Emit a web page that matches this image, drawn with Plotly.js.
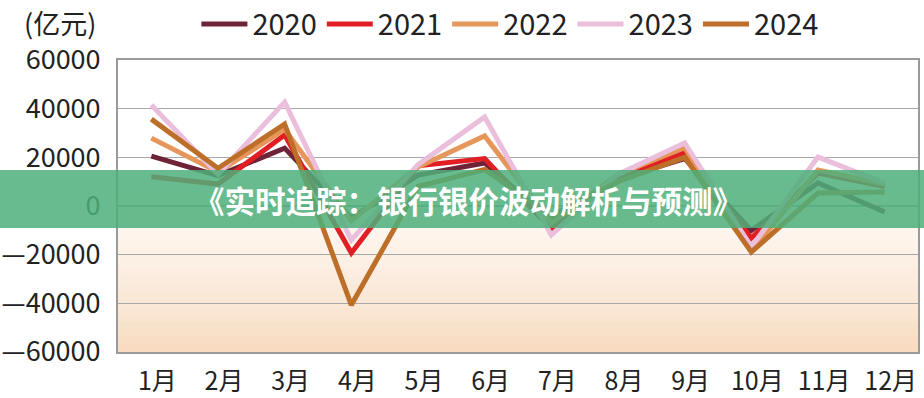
<!DOCTYPE html>
<html>
<head>
<meta charset="utf-8">
<script src="https://cdn.plot.ly/plotly-3.0.1.min.js"></script>
<style>
html,body{margin:0;padding:0;background:#fff;}
#chart{width:924px;height:398px;}
</style>
</head>
<body>
<div id="chart"></div>
<script>
// ---- data ----
const months = ['1月','2月','3月','4月','5月','6月','7月','8月','9月','10月','11月','12月'];
const seriesNames = ['2020','2021','2022','2023','2024'];
const v2020 = [20500, 12500, 23800, -5000, 12700, 17700, -5800, 11000, 19500, -10000, 9500, -2500];
const v2021 = [12000, 9000, 29200, -19300, 16500, 19500, -9500, 12000, 22000, -13200, 13500, 8000];
const v2022 = [27900, 14000, 31500, -6000, 16000, 28800, -7000, 13000, 24000, -18500, 14800, 9000];
const v2023 = [41500, 13000, 42700, -14000, 17000, 36600, -11900, 13000, 25900, -16800, 20100, 9400];
const v2024 = [35700, 15500, 33700, -40700, 8000, 15000, -4000, 10000, 20000, -18900, 5300, 5800];
const yTickVals = [-60000, -40000, -20000, 0, 20000, 40000, 60000];
const yTickText = ['—60000', '—40000', '—20000', '0', '20000', '40000', '60000'];
const unitLabel = '(亿元)';
const bannerText = '《实时追踪：银行银价波动解析与预测》';

const colors = ['#6e2337', '#e11e23', '#e6965a', '#ebbedc', '#bd6e28'];
const allValues = [v2020, v2021, v2022, v2023, v2024];

const FONT = '"Noto Sans CJK SC", "Noto Sans", sans-serif';

const traces = allValues.map((vals, i) => ({
  type: 'scatter',
  mode: 'lines',
  name: seriesNames[i],
  x: months,
  y: vals,
  line: {color: colors[i], width: 5, shape: 'linear'},
  hoverinfo: 'skip'
}));

// background gradient bands (white at top -> peach at bottom)
function lerp(a, b, t) { return Math.round(a + (b - a) * t); }
const bottomCol = [248, 219, 192], topCol = [255, 255, 255];
const shapes = [];
const nBands = 24, gradTop = 0.62;
for (let k = 0; k < nBands; k++) {
  const t = k / (nBands - 1);
  const c = [0,1,2].map(j => lerp(bottomCol[j], topCol[j], Math.pow(t, 0.8)));
  shapes.push({
    type: 'rect', xref: 'paper', yref: 'paper', layer: 'below',
    x0: 0, x1: 1,
    y0: gradTop * k / nBands, y1: gradTop * (k + 1) / nBands + 0.002,
    fillcolor: `rgb(${c[0]},${c[1]},${c[2]})`, line: {width: 0}
  });
}
// translucent green banner across the chart
shapes.push({
  type: 'rect', xref: 'paper', yref: 'paper', layer: 'above',
  x0: -0.16, x1: 1.02, y0: 0.4247, y1: 0.6233,
  fillcolor: 'rgba(78,175,122,0.85)', line: {width: 0}
});

const layout = {
  width: 924, height: 398,
  margin: {l: 118, r: 6, t: 60, b: 46, autoexpand: false},
  paper_bgcolor: '#ffffff',
  plot_bgcolor: 'rgba(0,0,0,0)',
  font: {family: FONT, size: 28, color: '#222'},
  showlegend: true,
  legend: {
    orientation: 'h', x: 0.098, xanchor: 'left', y: 1.21, yanchor: 'top',
    font: {family: FONT, size: 29, color: '#222'},
    itemwidth: 46, itemgap: 18, traceorder: 'normal',
    bgcolor: 'rgba(0,0,0,0)'
  },
  xaxis: {
    type: 'category', range: [-0.5, 11.5],
    showgrid: false, zeroline: false,
    showline: true, mirror: true, linecolor: '#9a9a9a', linewidth: 2,
    ticks: '', tickfont: {family: FONT, size: 25, color: '#222'},
    ticklabelstandoff: 6, ticklabelshift: 6,
    fixedrange: true
  },
  yaxis: {
    range: [-60000, 60000],
    tickmode: 'array', tickvals: yTickVals, ticktext: yTickText,
    showgrid: true, gridcolor: '#a8a8a8', gridwidth: 1.5,
    zeroline: false,
    showline: true, mirror: true, linecolor: '#9a9a9a', linewidth: 2,
    ticks: '', tickfont: {family: FONT, size: 27, color: '#222'},
    ticklabelstandoff: 10,
    fixedrange: true
  },
  shapes: shapes,
  annotations: [
    {
      text: unitLabel, xref: 'paper', yref: 'paper',
      x: -0.0725, y: 1.13, xanchor: 'center', yanchor: 'middle',
      borderpad: 0,
      showarrow: false, font: {family: FONT, size: 27, color: '#222'}
    },
    {
      text: '<b>' + bannerText + '</b>', xref: 'paper', yref: 'paper',
      x: 0.4375, y: 0.52, xanchor: 'center', yanchor: 'middle',
      showarrow: false, font: {family: FONT, size: 30.5, color: '#ffffff'}
    }
  ]
};

Plotly.newPlot('chart', traces, layout, {staticPlot: true, displayModeBar: false});
</script>
</body>
</html>
